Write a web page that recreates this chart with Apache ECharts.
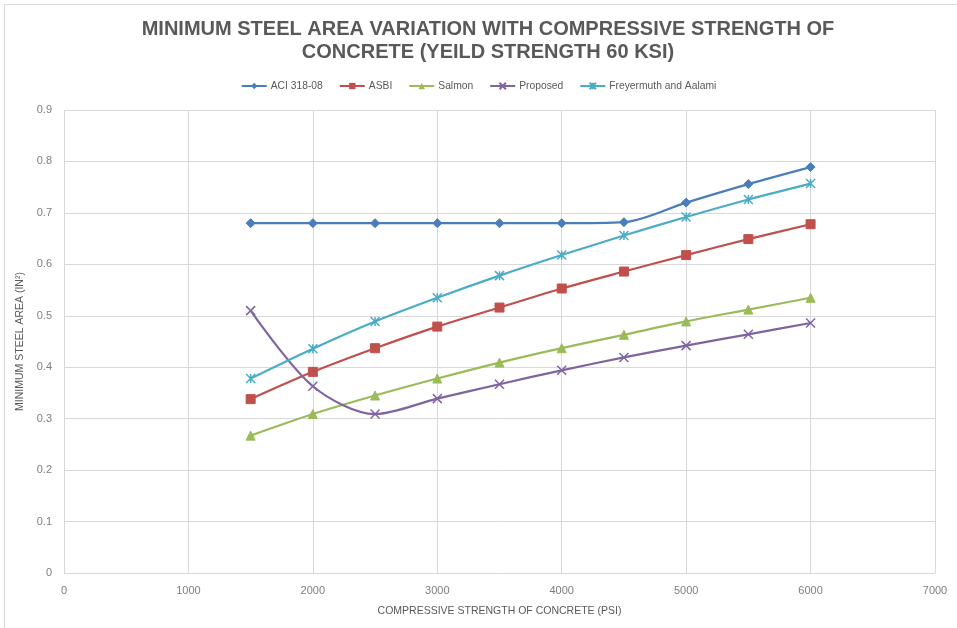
<!DOCTYPE html>
<html>
<head>
<meta charset="utf-8">
<script src="https://cdn.jsdelivr.net/npm/echarts@6/dist/echarts.min.js"></script>
<style>html,body{margin:0;padding:0;background:#fff;}#c{width:957px;height:628px;}</style>
</head>
<body>
<div id="c"></div>
<script>
const strengths = [1500, 2000, 2500, 3000, 3500, 4000, 4500, 5000, 5500, 6000];
const aci = [0.68, 0.68, 0.68, 0.68, 0.68, 0.68, 0.682, 0.72, 0.756, 0.789];
const asbi = [0.338, 0.391, 0.437, 0.479, 0.516, 0.553, 0.586, 0.618, 0.649, 0.678];
const salmon = [0.267, 0.309, 0.345, 0.378, 0.409, 0.437, 0.463, 0.489, 0.512, 0.535];
const proposed = [0.51, 0.363, 0.309, 0.339, 0.367, 0.394, 0.419, 0.442, 0.464, 0.486];
const freyermuth = [0.378, 0.436, 0.489, 0.535, 0.578, 0.618, 0.656, 0.692, 0.726, 0.757];
const xTicks = [0, 1000, 2000, 3000, 4000, 5000, 6000, 7000];
const yTicks = [0, 0.1, 0.2, 0.3, 0.4, 0.5, 0.6, 0.7, 0.8, 0.9];

const names = ['ACI 318-08', 'ASBI', 'Salmon', 'Proposed', 'Freyermuth and Aalami'];
const seriesData = [aci, asbi, salmon, proposed, freyermuth];
const colors = ['#4A7EBB', '#C0504D', '#9BBB59', '#8064A2', '#4BACC6'];
const symbols = ['diamond', 'rect', 'triangle',
  'path://M0,0 L10,10 M10,0 L0,10',
  'path://M0,0 L10,10 M10,0 L0,10 M5,0 L5,10'];
const symbolSizes = [9, 9, 9, 9, 9];
const FONT = 'Liberation Sans, Arial, sans-serif';

const chart = echarts.init(document.getElementById('c'), null, {renderer: 'canvas'});
const series = names.map((n, i) => ({
  name: n,
  type: 'line',
  smooth: 0.3,
  data: strengths.map((x, j) => [x, seriesData[i][j]]),
  symbol: symbols[i],
  symbolSize: symbolSizes[i],
  showAllSymbol: true,
  lineStyle: {color: colors[i], width: 2.2},
  itemStyle: (i >= 3) ? {color: 'transparent', borderColor: colors[i], borderWidth: 1.5} : {color: colors[i], borderColor: colors[i]},
  emphasis: {disabled: true}
}));

chart.setOption({
  animation: false,
  backgroundColor: '#fff',
  color: colors,
  graphic: [{
    type: 'rect', shape: {x: 4.5, y: 4.5, width: 990, height: 700},
    style: {fill: 'none', stroke: '#d9d9d9', lineWidth: 1}, silent: true
  }],
  title: {
    text: 'MINIMUM STEEL AREA VARIATION WITH COMPRESSIVE STRENGTH OF\nCONCRETE (YEILD STRENGTH 60 KSI)',
    left: 483, top: 13, textAlign: 'center',
    textStyle: {fontFamily: FONT, fontWeight: 'bold', fontSize: 20, color: '#595959', lineHeight: 23}
  },
  legend: {
    top: 76, left: 'center', itemWidth: 25, itemHeight: 8, itemGap: 16,
    data: names,
    textStyle: {fontFamily: FONT, fontSize: 10.3, color: '#595959', padding: [0, 0, 0, -1]}
  },
  grid: {left: 64, right: 22, top: 110, bottom: 55, containLabel: false, show: false},
  xAxis: {
    type: 'value', min: xTicks[0], max: xTicks[xTicks.length - 1], interval: 1000,
    name: 'COMPRESSIVE STRENGTH OF CONCRETE (PSI)', nameLocation: 'middle', nameGap: 33,
    nameTextStyle: {fontFamily: FONT, fontSize: 10.5, color: '#595959'},
    axisLine: {show: true, lineStyle: {color: '#d9d9d9'}},
    axisTick: {show: false},
    axisLabel: {fontFamily: FONT, fontSize: 11, color: '#7f7f7f', margin: 12, formatter: v => String(v)},
    splitLine: {show: true, lineStyle: {color: '#d9d9d9', width: 1}}
  },
  yAxis: {
    type: 'value', min: yTicks[0], max: yTicks[yTicks.length - 1], interval: 0.1,
    name: 'MINIMUM STEEL AREA (IN²)', nameLocation: 'middle', nameGap: 34, nameRotate: 90,
    nameTextStyle: {fontFamily: FONT, fontSize: 10.5, color: '#595959'},
    axisLine: {show: false},
    axisTick: {show: false},
    axisLabel: {fontFamily: FONT, fontSize: 11, color: '#7f7f7f', margin: 12,
      formatter: v => String(Math.round(v * 10) / 10)},
    splitLine: {show: true, lineStyle: {color: '#d9d9d9', width: 1}}
  },
  series: series
});
</script>
</body>
</html>
